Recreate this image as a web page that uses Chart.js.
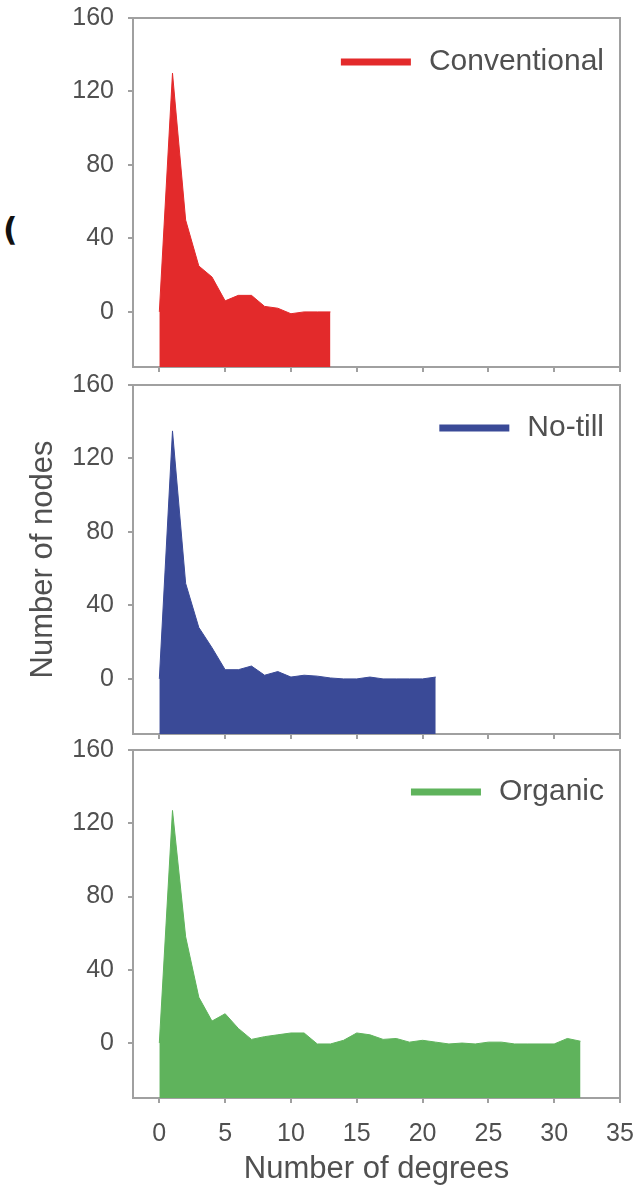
<!DOCTYPE html>
<html>
<head>
<meta charset="utf-8">
<script src="https://cdn.jsdelivr.net/npm/chart.js@4.4.1/dist/chart.umd.min.js"></script>
<style>
html,body{margin:0;padding:0;background:#fff;width:641px;height:1188px;overflow:hidden;position:relative;}
.wrap{position:absolute;left:0;width:641px;}
canvas{display:block;}
#paren{position:absolute;left:3px;top:210px;font:bold 32px "DejaVu Sans",sans-serif;color:#111;}
</style>
</head>
<body>
<div id="paren">(</div>
<div class="wrap" style="top:0px;height:380px"><canvas id="c1" width="641" height="380" style="width:641px;height:380px"></canvas></div>
<div class="wrap" style="top:367px;height:380px"><canvas id="c2" width="641" height="380" style="width:641px;height:380px"></canvas></div>
<div class="wrap" style="top:732px;height:456px"><canvas id="c3" width="641" height="456" style="width:641px;height:456px"></canvas></div>
<script>
// ---- data ----
const xTicks = [0, 5, 10, 15, 20, 25, 30, 35];
const yTicks = [0, 40, 80, 120, 160];

const degreesConventional = [0,1,2,3,4,5,6,7,8,9,10,11,12,13];
const valuesConventional  = [0,130,50,25,19,6,9,9,3,2,-1,0,0,0];

const degreesNoTill = [0,1,2,3,4,5,6,7,8,9,10,11,12,13,14,15,16,17,18,19,20,21];
const valuesNoTill  = [0,135,52,28,17,5,5,7,2,4,1,2,1.5,0.5,0,0,1,0,0,0,0,1];

const degreesOrganic = [0,1,2,3,4,5,6,7,8,9,10,11,12,13,14,15,16,17,18,19,20,21,22,23,24,25,26,27,28,29,30,31,32];
const valuesOrganic  = [0,127,58,25,12,16,8,2,3.5,4.5,5.5,5.5,-0.5,-0.5,1.5,5.5,4.5,2,2.5,0.5,1.5,0.5,-0.5,0,-0.5,0.5,0.5,-0.5,-0.5,-0.5,-0.5,2.5,1];

const seriesNames = ['Conventional', 'No-till', 'Organic'];
const seriesColors = ['#e32a2b', '#3a4a97', '#5fb35c'];
const xTitle = 'Number of degrees';
const yTitle = 'Number of nodes';

// ---- styling ----
const FONT = '"Liberation Sans", Arial, Helvetica, sans-serif';
const axisColor = '#a0a0a0';
const textColor = '#505050';
Chart.defaults.font.family = FONT;
Chart.defaults.color = textColor;

const framePlugin = {
  id: 'frame',
  afterDraw(chart) {
    const { ctx, chartArea: a } = chart;
    ctx.save();
    ctx.strokeStyle = axisColor;
    ctx.lineWidth = 2;
    ctx.beginPath();
    ctx.moveTo(a.left, a.top);
    ctx.lineTo(a.right, a.top);
    ctx.lineTo(a.right, a.bottom);
    ctx.stroke();
    const ds = chart.data.datasets[0];
    ctx.font = '30px ' + FONT;
    const tw = ctx.measureText(ds.label).width;
    const tx = a.right - 16;
    const ty = a.top + chart.options.plugins.frame.legendOffset;
    ctx.fillStyle = textColor;
    ctx.textAlign = 'right';
    ctx.textBaseline = 'middle';
    ctx.fillText(ds.label, tx, ty);
    ctx.fillStyle = ds.backgroundColor;
    ctx.fillRect(tx - tw - 18 - 70, ty - 3.5, 70, 7);
    ctx.restore();
  }
};

function makeChart(id, degrees, values, name, color, opts) {
  const pts = degrees.map((d, i) => ({ x: d, y: values[i] }));
  return new Chart(document.getElementById(id), {
    type: 'line',
    data: {
      datasets: [{
        label: name,
        data: pts,
        backgroundColor: color,
        borderColor: color,
        borderWidth: 1,
        pointRadius: 0,
        tension: 0,
        fill: 'start'
      }]
    },
    options: {
      responsive: false,
      animation: false,
      events: [],
      layout: { padding: { left: 0, right: 21, top: 18, bottom: opts.padBottom } },
      plugins: {
        legend: { display: false },
        tooltip: { enabled: false },
        frame: { legendOffset: opts.legendOffset }
      },
      scales: {
        x: {
          type: 'linear',
          min: -2, max: 35,
          afterBuildTicks: s => { s.ticks = xTicks.map(v => ({ value: v })); },
          afterFit: s => { s.height = opts.xHeight; s.paddingLeft = 0; s.paddingRight = 0; s.paddingTop = 0; s.paddingBottom = 0; },
          border: { display: true, color: axisColor, width: 2 },
          grid: { drawOnChartArea: false, drawTicks: true, tickLength: 5, color: axisColor, lineWidth: 2 },
          ticks: {
            display: opts.showX,
            padding: 16,
            color: textColor,
            font: { size: 25 },
            maxRotation: 0,
            autoSkip: false
          },
          title: {
            display: opts.showX,
            text: xTitle,
            color: textColor,
            font: { size: 31 },
            padding: { top: 0, bottom: 0 }
          }
        },
        y: {
          type: 'linear',
          min: -30, max: 160,
          afterBuildTicks: s => { s.ticks = yTicks.map(v => ({ value: v })); },
          afterFit: s => { s.width = 133; s.paddingTop = 0; s.paddingBottom = 0; s.paddingLeft = 0; s.paddingRight = 0; },
          border: { display: true, color: axisColor, width: 2 },
          grid: { drawOnChartArea: false, drawTicks: true, tickLength: 5, color: axisColor, lineWidth: 2 },
          ticks: { padding: 14, color: textColor, font: { size: 25 } },
          title: {
            display: opts.showY,
            text: yTitle,
            color: textColor,
            font: { size: 31 },
            padding: { top: 25, bottom: 0 }
          }
        }
      }
    },
    plugins: [framePlugin]
  });
}

makeChart('c1', degreesConventional, valuesConventional, seriesNames[0], seriesColors[0],
  { padBottom: 5, xHeight: 8, showX: false, showY: false, legendOffset: 44 });
makeChart('c2', degreesNoTill, valuesNoTill, seriesNames[1], seriesColors[1],
  { padBottom: 5, xHeight: 8, showX: false, showY: true, legendOffset: 43 });
makeChart('c3', degreesOrganic, valuesOrganic, seriesNames[2], seriesColors[2],
  { padBottom: 0, xHeight: 90, showX: true, showY: false, legendOffset: 42 });
</script>
</body>
</html>
